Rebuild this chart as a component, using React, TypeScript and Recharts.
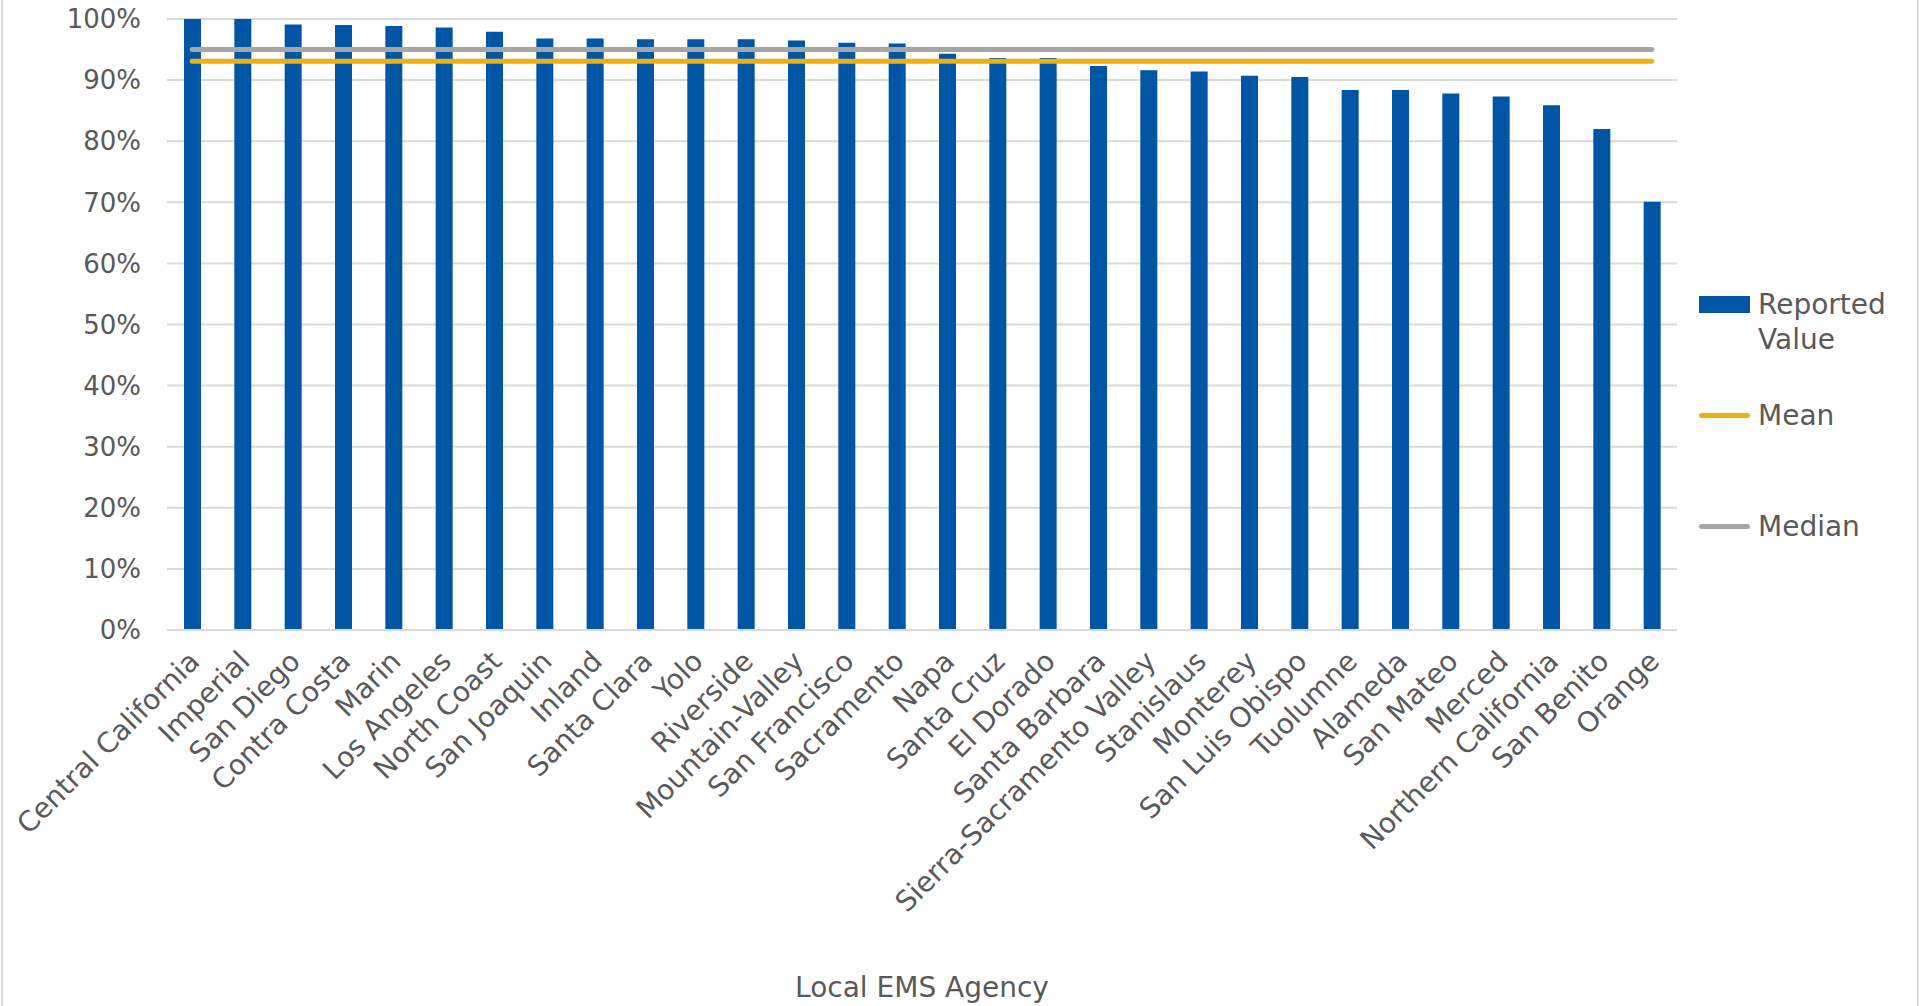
import {
  ComposedChart,
  Bar,
  Line,
  XAxis,
  YAxis,
  CartesianGrid,
  Legend,
  Label,
} from 'recharts';

const agencies = [
  'Central California',
  'Imperial',
  'San Diego',
  'Contra Costa',
  'Marin',
  'Los Angeles',
  'North Coast',
  'San Joaquin',
  'Inland',
  'Santa Clara',
  'Yolo',
  'Riverside',
  'Mountain-Valley',
  'San Francisco',
  'Sacramento',
  'Napa',
  'Santa Cruz',
  'El Dorado',
  'Santa Barbara',
  'Sierra-Sacramento Valley',
  'Stanislaus',
  'Monterey',
  'San Luis Obispo',
  'Tuolumne',
  'Alameda',
  'San Mateo',
  'Merced',
  'Northern California',
  'San Benito',
  'Orange',
];

const reportedValues = [
  100, 100, 99.1, 99.0, 98.85, 98.6, 97.9, 96.8, 96.8, 96.7, 96.7, 96.7, 96.5, 96.1, 96.0,
  94.3, 93.6, 93.6, 92.3, 91.6, 91.4, 90.7, 90.5, 88.4, 88.4, 87.8, 87.3, 85.9, 82.0, 70.1,
];

const MEAN = 93.1;
const MEDIAN = 95.0;

const yTicks = [0, 10, 20, 30, 40, 50, 60, 70, 80, 90, 100];

const rows = agencies.map((agency, i) => ({
  agency,
  reported: reportedValues[i],
  mean: MEAN,
  median: MEDIAN,
}));

const FONT = '"DejaVu Sans", sans-serif';
const TEXT = '#595959';
const BLUE = '#0055A5';
const GOLD = '#EDB010';
const GRAY = '#A5A5A5';

// Excel style diagonal labels: text ends just right of the tick
function AgencyTick(props: any) {
  const { x, y, payload } = props;
  const ax = x + 9;
  const ay = y + 33;
  return (
    <text
      x={ax}
      y={ay}
      transform={`rotate(-45 ${ax} ${ay})`}
      textAnchor="end"
      fill={TEXT}
      fontSize={28}
      fontFamily={FONT}
    >
      {payload.value}
    </text>
  );
}

const legendItems = [
  { label: ['Reported', 'Value'], color: BLUE, kind: 'bar', top: 0 },
  { label: ['Mean'], color: GOLD, kind: 'line', top: 111 },
  { label: ['Median'], color: GRAY, kind: 'line', top: 222 },
];

function LegendBox() {
  return (
    <div style={{ position: 'relative', width: 220, height: 270, fontFamily: FONT }}>
      {legendItems.map((item) => (
        <div key={item.label.join(' ')} style={{ position: 'absolute', left: 0, top: item.top }}>
          {item.kind === 'bar' ? (
            <div
              style={{
                position: 'absolute',
                left: 0,
                top: 16,
                width: 51,
                height: 17,
                background: item.color,
              }}
            />
          ) : (
            <div
              style={{
                position: 'absolute',
                left: 0,
                top: 22,
                width: 51,
                height: 5,
                borderRadius: 3,
                background: item.color,
              }}
            />
          )}
          <div
            style={{
              position: 'absolute',
              left: 59,
              top: 7,
              fontSize: 28,
              lineHeight: '35px',
              color: TEXT,
              whiteSpace: 'nowrap',
            }}
          >
            {item.label.map((l) => (
              <div key={l}>{l}</div>
            ))}
          </div>
        </div>
      ))}
    </div>
  );
}

export default function App() {
  return (
    <div
      style={{
        position: 'fixed',
        left: 0,
        top: 0,
        width: 1919,
        height: 1006,
        background: '#fff',
      }}
    >
      <div
        style={{
          position: 'absolute',
          left: 1,
          top: 0,
          width: 1914,
          height: 1006,
          borderLeft: '2px solid #d9d9d9',
          borderRight: '2px solid #d9d9d9',
        }}
      />
      <ComposedChart
        width={1919}
        height={1006}
        data={rows}
        margin={{ top: 19, right: 242, left: 0, bottom: 0 }}
      >
        <CartesianGrid vertical={false} stroke="#d9d9d9" strokeWidth={2} />
        <XAxis
          dataKey="agency"
          interval={0}
          height={376}
          tickLine={false}
          tickSize={0}
          tickMargin={0}
          axisLine={{ stroke: '#d9d9d9', strokeWidth: 2 }}
          tick={<AgencyTick />}
        >
          <Label
            value="Local EMS Agency"
            position="insideBottom"
            offset={9}
            fill={TEXT}
            fontSize={28}
            fontFamily={FONT}
          />
        </XAxis>
        <YAxis
          width={167}
          domain={[0, 100]}
          ticks={yTicks}
          tickFormatter={(v: number) => `${v}%`}
          axisLine={false}
          tickLine={false}
          tickSize={0}
          tickMargin={26}
          tick={{ fill: TEXT, fontSize: 26, fontFamily: FONT }}
        />
        <Bar dataKey="reported" name="Reported Value" fill={BLUE} barSize={17} isAnimationActive={false} />
        <Line
          dataKey="median"
          name="Median"
          stroke={GRAY}
          strokeWidth={5}
          strokeLinecap="round"
          dot={false}
          activeDot={false}
          isAnimationActive={false}
        />
        <Line
          dataKey="mean"
          name="Mean"
          stroke={GOLD}
          strokeWidth={5}
          strokeLinecap="round"
          dot={false}
          activeDot={false}
          isAnimationActive={false}
        />
        <Legend
          layout="horizontal"
          verticalAlign="middle"
          align="center"
          content={() => <LegendBox />}
          wrapperStyle={{ position: 'absolute', left: 1699, top: 280, width: 220, height: 270 }}
        />
      </ComposedChart>
    </div>
  );
}
